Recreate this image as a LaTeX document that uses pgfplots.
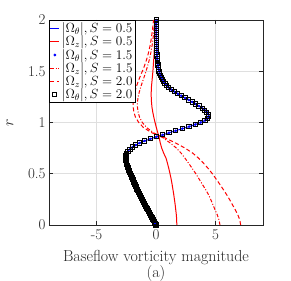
\RequirePackage{fix-cm}
\documentclass[border=0pt]{standalone}
\usepackage{pgfplots}
\pgfplotsset{compat=1.18}
\usepackage{pgfplotstable}
\usetikzlibrary{calc}

\pgfplotstableread{
r w
0.00 0.00
0.01 -0.05
0.02 -0.10
0.03 -0.15
0.04 -0.20
0.05 -0.25
0.06 -0.29
0.07 -0.34
0.08 -0.38
0.09 -0.43
0.10 -0.48
0.11 -0.52
0.12 -0.57
0.13 -0.61
0.14 -0.66
0.15 -0.71
0.16 -0.76
0.17 -0.80
0.18 -0.85
0.19 -0.89
0.20 -0.94
0.21 -0.98
0.22 -1.03
0.23 -1.07
0.24 -1.12
0.25 -1.16
0.26 -1.20
0.27 -1.25
0.28 -1.29
0.29 -1.33
0.30 -1.38
0.31 -1.42
0.32 -1.46
0.33 -1.50
0.34 -1.55
0.35 -1.59
0.36 -1.63
0.37 -1.67
0.38 -1.71
0.39 -1.75
0.40 -1.79
0.41 -1.83
0.42 -1.87
0.43 -1.91
0.44 -1.94
0.45 -1.98
0.46 -2.02
0.47 -2.05
0.48 -2.09
0.49 -2.13
0.50 -2.16
0.51 -2.20
0.52 -2.23
0.53 -2.27
0.54 -2.30
0.55 -2.33
0.56 -2.36
0.57 -2.39
0.58 -2.42
0.59 -2.45
0.60 -2.47
0.61 -2.49
0.62 -2.51
0.63 -2.53
0.64 -2.54
0.65 -2.55
0.66 -2.55
0.67 -2.54
0.68 -2.53
0.69 -2.50
0.70 -2.47
0.72 -2.35
0.74 -2.18
0.76 -1.96
0.78 -1.70
0.80 -1.38
0.82 -0.96
0.84 -0.48
0.86 0.04
0.88 0.56
0.90 1.10
0.92 1.66
0.94 2.22
0.96 2.78
0.98 3.30
1.00 3.76
1.02 4.12
1.04 4.36
1.06 4.44
1.08 4.40
1.10 4.28
1.12 4.10
1.14 3.88
1.16 3.62
1.18 3.35
1.20 3.05
1.22 2.75
1.24 2.44
1.26 2.13
1.28 1.83
1.30 1.55
1.32 1.30
1.34 1.08
1.36 0.90
1.38 0.75
1.40 0.63
1.42 0.53
1.44 0.44
1.46 0.37
1.48 0.31
1.50 0.26
1.52 0.22
1.54 0.19
1.56 0.16
1.58 0.14
1.60 0.12
1.62 0.10
1.64 0.09
1.66 0.08
1.68 0.07
1.70 0.06
1.72 0.06
1.74 0.05
1.76 0.05
1.78 0.05
1.80 0.04
1.82 0.04
1.84 0.04
1.86 0.03
1.88 0.03
1.90 0.03
1.92 0.03
1.94 0.02
1.96 0.02
1.98 0.02
2.00 0.02
}\omtheta

\pgfplotstableread{
r a b c
0.00 1.75 5.38 7.12
0.05 1.74 5.30 7.05
0.10 1.71 5.15 6.88
0.15 1.66 4.96 6.66
0.20 1.61 4.78 6.42
0.25 1.55 4.60 6.18
0.30 1.49 4.40 5.92
0.35 1.42 4.15 5.64
0.40 1.35 3.88 5.35
0.45 1.27 3.62 5.05
0.50 1.18 3.35 4.74
0.55 1.08 3.06 4.40
0.60 0.97 2.76 4.02
0.65 0.85 2.45 3.60
0.70 0.65 2.12 3.10
0.75 0.48 1.72 2.45
0.80 0.36 1.20 1.65
0.85 0.27 0.60 0.75
0.873 0.22 0.22 0.22
0.90 0.15 -0.20 -0.35
0.95 0.03 -0.78 -1.05
1.00 -0.08 -1.15 -1.45
1.05 -0.18 -1.38 -1.72
1.10 -0.27 -1.50 -1.86
1.15 -0.34 -1.56 -1.92
1.20 -0.38 -1.56 -1.92
1.25 -0.40 -1.50 -1.87
1.30 -0.40 -1.40 -1.78
1.35 -0.38 -1.27 -1.65
1.40 -0.34 -1.13 -1.50
1.45 -0.30 -0.98 -1.33
1.50 -0.26 -0.84 -1.15
1.55 -0.23 -0.71 -0.98
1.60 -0.20 -0.59 -0.83
1.65 -0.17 -0.49 -0.70
1.70 -0.15 -0.40 -0.59
1.75 -0.13 -0.33 -0.50
1.80 -0.11 -0.27 -0.42
1.85 -0.10 -0.22 -0.36
1.90 -0.08 -0.18 -0.30
1.95 -0.07 -0.15 -0.25
2.00 -0.06 -0.12 -0.21
}\omz

\definecolor{axgray}{RGB}{38,38,38}

\begin{document}
\begin{tikzpicture}
\begin{axis}[
  name=ax,
  scale only axis,
  width=214bp, height=205bp,
  xmin=-9, xmax=9, ymin=0, ymax=2,
  xtick={-5,0,5}, xticklabels={-5,0,5},
  ytick={0,0.5,1,1.5,2}, yticklabels={0,0.5,1,1.5,2},
  tick align=inside,
  major tick length=4bp,
  tick style={axgray, line width=0.6pt},
  axis line style={axgray, line width=0.8pt},
  grid=major,
  grid style={gray!25, line width=0.6pt},
  tick label style={font=\fontsize{15}{18}\selectfont, text=axgray},
  xticklabel style={yshift=-1bp},
  label style={font=\fontsize{16}{16}\selectfont, text=axgray},
  xlabel={Baseflow vorticity magnitude\\(a)},
  xlabel style={align=center, at={(axis description cs:0.5,0)}, anchor=north, yshift=-22bp},
  ylabel={$r$},
  ylabel style={at={(axis description cs:-0.183,0.5)}, anchor=center, rotate=0},
  legend style={at={(rel axis cs:0,1)}, anchor=north west,
    font=\fontsize{13.3}{14}\selectfont, draw=black, line width=0.7pt,
    inner sep=0.5bp, row sep=-2.2bp, fill=white, legend cell align=left},
  legend image code/.code={\draw[#1] (0cm,0cm) -- (0.32cm,0cm);},
  clip=true,
]
\addplot[blue, line width=0.9pt] table[x=w, y=r] {\omtheta};
\addlegendentry{$|\Omega_\theta|, S=0.5$}
\addplot[red, line width=1pt] table[x=a, y=r] {\omz};
\addlegendentry{$|\Omega_z|, S=0.5$}
\addplot[blue, only marks, mark=*, mark size=1.1bp,
  legend image code/.code={\draw[mark repeat=2,mark phase=2] plot coordinates {(0cm,0cm) (0.16cm,0cm) (0.32cm,0cm)};}] table[x=w, y=r] {\omtheta};
\addlegendentry{$|\Omega_\theta|, S=1.5$}
\addplot[red, line width=1pt, dash pattern=on 3.5bp off 1.8bp on 1bp off 1.8bp] table[x=b, y=r] {\omz};
\addlegendentry{$|\Omega_z|, S=1.5$}
\addplot[red, line width=1pt, dash pattern=on 4bp off 2.5bp] table[x=c, y=r] {\omz};
\addlegendentry{$|\Omega_z|, S=2.0$}
\addplot[black, only marks, mark=square, mark size=2.1bp, mark options={line width=1pt},
  legend image code/.code={\draw[mark repeat=2,mark phase=2] plot coordinates {(0cm,0cm) (0.16cm,0cm) (0.32cm,0cm)};}] table[x=w, y=r] {\omtheta};
\addlegendentry{$|\Omega_\theta|, S=2.0$}
\end{axis}
\pgfresetboundingbox
\path ($(ax.south west)+(-49bp,-56bp)$) rectangle ($(ax.north east)+(28bp,20bp)$);
\end{tikzpicture}
\end{document}
